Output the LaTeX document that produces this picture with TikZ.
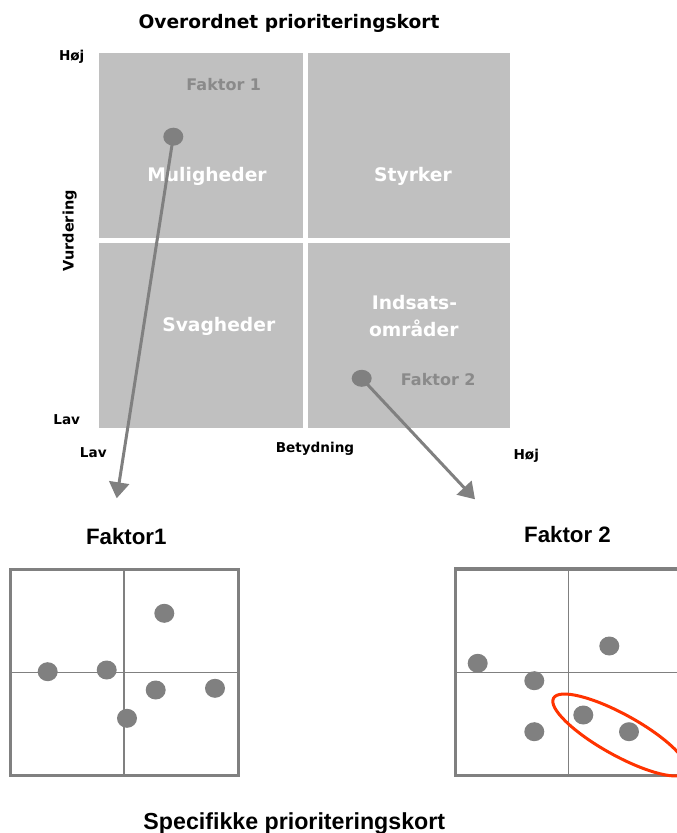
\documentclass[tikz,border=0pt]{standalone}
\usepackage{fontspec}
\setmainfont{DejaVu Sans}
\newfontfamily\arialfont{Liberation Sans}
\usetikzlibrary{arrows.meta,shapes.geometric}
\definecolor{quad}{HTML}{C0C0C0}
\definecolor{dotgray}{HTML}{808080}
\definecolor{labgray}{HTML}{8A8A8A}
\definecolor{selred}{HTML}{FF3300}
\begin{document}
\begin{tikzpicture}[x=1pt,y=-1pt,
 quadfill/.style={fill=quad},
 maintitle/.style={font=\fontsize{18.6}{22}\selectfont\bfseries, anchor=base, inner sep=0},
 quadtxt/.style={font=\fontsize{18.7}{22}\selectfont\bfseries, text=white, anchor=base, inner sep=0},
 faktxt/.style={font=\fontsize{16}{19}\selectfont\bfseries, text=labgray, anchor=base, inner sep=0},
 axtxt/.style={font=\fontsize{13.6}{16}\selectfont\bfseries, anchor=base, inner sep=0},
 subtitle/.style={font=\arialfont\fontsize{22.3}{26}\selectfont\bfseries, anchor=base, inner sep=0},
 bigdot/.style={ellipse, fill=dotgray, minimum width=20pt, minimum height=18pt, inner sep=0},
 smalldot/.style={ellipse, fill=dotgray, minimum width=20pt, minimum height=19pt, inner sep=0},
 linkarrow/.style={draw=dotgray, line width=3pt, -{Triangle[length=16pt,width=20pt]}},
 mapframe/.style={draw=dotgray, line width=3.3pt},
 mapaxis/.style={draw=dotgray, line width=1.3pt},
 selring/.style={ellipse, draw=selred, line width=3pt, minimum width=152pt, minimum height=41pt, inner sep=0},
]
\useasboundingbox (0,0) rectangle (677,833);
\clip (0,0) rectangle (677,833);
% quadrants
\fill[quadfill] (99.3,52.7) rectangle (302.7,237.7);
\fill[quadfill] (307.7,52.7) rectangle (510,237.7);
\fill[quadfill] (99.3,243.3) rectangle (302.7,427.7);
\fill[quadfill] (307.7,243.3) rectangle (510,427.7);
% titles and labels
\node[maintitle] (title) at (289,28) {Overordnet prioriteringskort};
\node[axtxt] (hojv) at (71.7,60) {Høj};
\node[axtxt] (lavv) at (66.7,424.3) {Lav};
\node[axtxt, font=\fontsize{14.5}{17}\selectfont\bfseries, rotate=90] (vurd) at (73.5,230.8) {Vurdering};
\node[axtxt] (lavh) at (93.3,457.3) {Lav};
\node[axtxt] (betyd) at (315,452.3) {Betydning};
\node[axtxt] (hojh) at (526.3,459.3) {Høj};
\node[faktxt] (f1lab) at (223.8,90) {Faktor 1};
\node[faktxt] (f2lab) at (438.3,385) {Faktor 2};
\node[quadtxt] (mul) at (207,181) {Muligheder};
\node[quadtxt] (sty) at (413,181) {Styrker};
\node[quadtxt] (sva) at (218.8,331.7) {Svagheder};
\node[quadtxt] (ind1) at (414.5,309) {Indsats-};
\node[quadtxt] (ind2) at (413.8,336.7) {områder};
% dots in overview
\node[bigdot] (d1) at (173.3,136.7) {};
\node[bigdot, minimum height=17pt] (d2) at (361.7,378.3) {};
\coordinate (tip1) at (116.7,498.3);
\coordinate (tip2) at (475,499.3);
\draw[linkarrow] (d1.center) -- (tip1);
\draw[linkarrow] (d2.center) -- (tip2);
% specific maps
\node[subtitle] (s1) at (126.3,544.3) {Faktor1};
\node[subtitle] (s2) at (567.5,542.3) {Faktor 2};
\node[subtitle, font=\arialfont\fontsize{23.2}{27}\selectfont\bfseries] (s3) at (294.3,829.3) {Specifikke prioriteringskort};
% map 1
\draw[mapaxis] (124,569.3) -- (124,775.7);
\draw[mapaxis] (10.3,672.7) -- (238.3,672.7);
\draw[mapframe] (10.3,569.3) rectangle (238.3,775.7);
\node[smalldot] (a1) at (164.3,613.3) {};
\node[smalldot] (a2) at (47.7,671.7) {};
\node[smalldot] (a3) at (106.7,670) {};
\node[smalldot] (a4) at (155.7,690) {};
\node[smalldot] (a5) at (215,688.3) {};
\node[smalldot] (a6) at (127,718.3) {};
% map 2
\draw[mapaxis] (568.3,569) -- (568.3,775.7);
\draw[mapaxis] (455.7,672.3) -- (683.7,672.3);
\draw[mapframe] (455.7,569) rectangle (683.7,775.7);
\node[smalldot] (b1) at (477.7,663.3) {};
\node[smalldot] (b2) at (609.3,646) {};
\node[smalldot] (b3) at (534.3,680.7) {};
\node[smalldot] (b4) at (534.3,731.7) {};
\node[smalldot] (b5) at (583.3,715) {};
\node[smalldot] (b6) at (629,731.7) {};
\node[selring, rotate=-29] (sel) at (620,735) {};
\end{tikzpicture}
\end{document}
